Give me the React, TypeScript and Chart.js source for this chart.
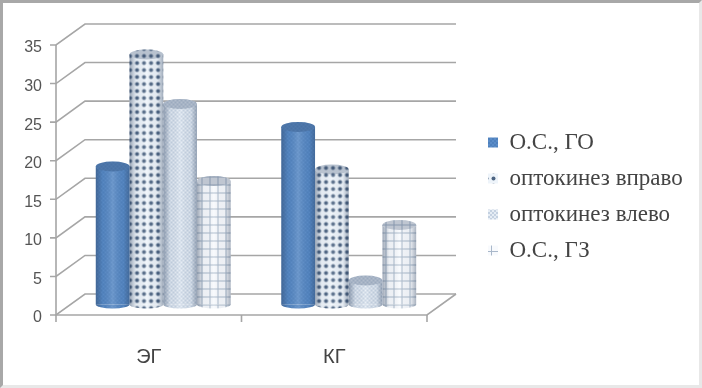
import React, { useEffect, useRef } from "react";
import { Chart, registerables } from "chart.js";

Chart.register(...registerables);

const categories = ["ЭГ", "КГ"];
const seriesNames = ["О.С., ГО", "оптокинез вправо", "оптокинез влево", "О.С., ГЗ"];
const osGo = [17.9, 23.0];
const optoRight = [32.4, 17.5];
const optoLeft = [26.0, 3.1];
const osGz = [16.0, 10.3];
const yTicksMax = 35;
const yTicksStep = 5;

const DX = 29;
const DY = 21;
const GRID = "#a6a6a6";

function tile(size: number, paint: (c: CanvasRenderingContext2D) => void) {
  const cv = document.createElement("canvas");
  cv.width = size;
  cv.height = size;
  const c = cv.getContext("2d")!;
  paint(c);
  return c.createPattern(cv, "repeat")!;
}

function makePatterns() {
  const solid = tile(4, (c) => {
    c.fillStyle = "#4f81bd";
    c.fillRect(0, 0, 4, 4);
    c.fillStyle = "#5a8cc8";
    c.fillRect(0, 0, 2, 2);
    c.fillRect(2, 2, 2, 2);
  });
  const dots = tile(7, (c) => {
    c.fillStyle = "#eef4fa";
    c.fillRect(0, 0, 7, 7);
    c.fillStyle = "#4d6482";
    c.beginPath();
    c.arc(3.5, 3.5, 2, 0, Math.PI * 2);
    c.fill();
  });
  const fine = tile(4, (c) => {
    c.fillStyle = "#e6edf5";
    c.fillRect(0, 0, 4, 4);
    c.fillStyle = "#c4d1e1";
    c.fillRect(0, 0, 2, 2);
    c.fillRect(2, 2, 2, 2);
  });
  const grid = tile(8, (c) => {
    c.fillStyle = "#f8fafd";
    c.fillRect(0, 0, 8, 8);
    c.fillStyle = "#a9b8ca";
    c.fillRect(3, 0, 1, 8);
    c.fillRect(0, 3, 8, 1);
  });
  return [solid, dots, fine, grid];
}

const scene = {
  id: "scene",
  afterLayout(chart: any) {
    const l = chart.legend;
    if (l) {
      l.left = 475;
      l.right = 700;
      l.top = 118;
      l.bottom = 280;
    }
  },
  beforeDatasetsDraw(chart: any) {
    const { ctx, chartArea: a, scales } = chart;
    const y = scales.y;
    ctx.save();
    ctx.strokeStyle = GRID;
    ctx.lineWidth = 1.6;
    y.ticks.forEach((t: any) => {
      const py = y.getPixelForValue(t.value);
      ctx.beginPath();
      ctx.moveTo(a.left - 6, py);
      ctx.lineTo(a.left, py);
      ctx.lineTo(a.left + DX, py - DY);
      ctx.lineTo(a.right + DX, py - DY);
      ctx.stroke();
    });
    ctx.beginPath();
    ctx.moveTo(a.left, a.top);
    ctx.lineTo(a.left, a.bottom);
    ctx.lineTo(a.right, a.bottom);
    ctx.lineTo(a.right + DX, a.bottom - DY);
    ctx.stroke();
    [a.left, (a.left + a.right) / 2, a.right].forEach((px) => {
      ctx.beginPath();
      ctx.moveTo(px, a.bottom);
      ctx.lineTo(px, a.bottom + 7);
      ctx.stroke();
    });
    ctx.restore();
    ctx.save();
    ctx.translate(DX / 2, -DY / 2);
  },
  afterDatasetDraw(chart: any, args: any) {
    const { ctx } = chart;
    const pattern = chart.data.datasets[args.index].backgroundColor;
    args.meta.data.forEach((el: any) => {
      const rx = el.width / 2;
      const ry = 5;
      const left = el.x - rx;
      const g = ctx.createLinearGradient(left, 0, left + el.width, 0);
      g.addColorStop(0, "rgba(40,60,90,0.42)");
      g.addColorStop(0.2, "rgba(40,60,90,0.05)");
      g.addColorStop(0.5, "rgba(255,255,255,0.14)");
      g.addColorStop(0.82, "rgba(40,60,90,0.05)");
      g.addColorStop(1, "rgba(40,60,90,0.38)");
      ctx.save();
      ctx.beginPath();
      ctx.ellipse(el.x, el.base, rx, ry - 1, 0, 0, Math.PI);
      ctx.fillStyle = pattern;
      ctx.fill();
      ctx.beginPath();
      ctx.moveTo(left, el.y);
      ctx.lineTo(left + el.width, el.y);
      ctx.lineTo(left + el.width, el.base);
      ctx.ellipse(el.x, el.base, rx, ry - 1, 0, 0, Math.PI);
      ctx.closePath();
      ctx.fillStyle = g;
      ctx.fill();
      ctx.beginPath();
      ctx.ellipse(el.x, el.y, rx, ry, 0, 0, Math.PI * 2);
      ctx.fillStyle = pattern;
      ctx.fill();
      ctx.fillStyle = "rgba(60,80,110,0.3)";
      ctx.fill();
      ctx.restore();
    });
  },
  afterDatasetsDraw(chart: any) {
    chart.ctx.restore();
  },
};

export default function App() {
  const ref = useRef<HTMLCanvasElement>(null);
  useEffect(() => {
    document.body.style.margin = "0";
    const patterns = makePatterns();
    const values = [osGo, optoRight, optoLeft, osGz];
    const chart = new Chart(ref.current!, {
      type: "bar",
      data: {
        labels: categories,
        datasets: seriesNames.map((label, i) => ({
          label,
          data: values[i],
          backgroundColor: patterns[i],
          borderWidth: 0,
          categoryPercentage: 0.727,
          barPercentage: 1,
          clip: false,
        })),
      },
      options: {
        animation: false,
        responsive: false,
        layout: { padding: { left: 0, right: 275, top: 45, bottom: 0 } },
        plugins: {
          tooltip: { enabled: false },
          legend: {
            position: "chartArea",
            align: "start",
            labels: {
              boxWidth: 10,
              boxHeight: 10,
              padding: 13,
              color: "#444444",
              font: { family: "'Liberation Serif'", size: 23 },
            },
          },
        },
        scales: {
          x: {
            afterFit: (s: any) => { s.height = 73; },
            grid: { display: false },
            border: { display: false },
            ticks: { padding: 22, color: "#444444", font: { family: "'Liberation Sans'", size: 20 } },
          },
          y: {
            min: 0,
            max: yTicksMax,
            afterFit: (s: any) => { s.width = 56; },
            grid: { display: false },
            border: { display: false },
            ticks: { stepSize: yTicksStep, padding: 6, labelOffset: 3, color: "#555555", font: { family: "'Liberation Sans'", size: 16 } },
          },
        },
      },
      plugins: [scene],
    } as any);
    return () => chart.destroy();
  }, []);
  return (
    <div style={{ position: "absolute", left: 0, top: 0, width: 702, height: 388, background: "#fff" }}>
      <canvas ref={ref} width={702} height={388} style={{ display: "block", filter: "blur(0.55px)" }} />
      <div style={{ position: "absolute", left: 0, top: 0, width: 696, height: 382, borderStyle: "solid", borderWidth: 3, borderColor: "#a8a8a8 #e8e8e8 #e8e8e8 #a8a8a8" }} />
    </div>
  );
}
